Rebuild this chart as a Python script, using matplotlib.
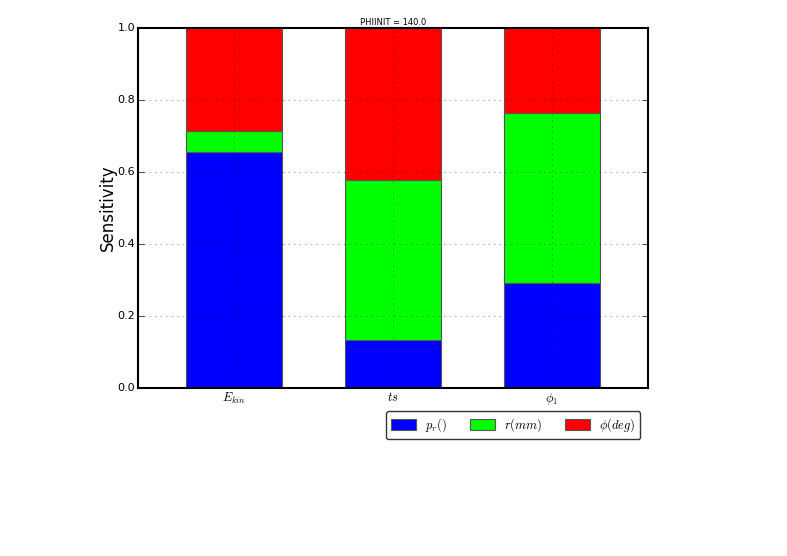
import matplotlib
matplotlib.use("Agg")
import matplotlib.pyplot as plt
import numpy as np

plt.style.use("classic")
plt.rcParams["mathtext.fontset"] = "cm"

# --- dados ---
categorias = [r"$E_{kin}$", r"$ts$", r"$\phi_1$"]
p_r = [0.656, 0.133, 0.292]
r_mm = [0.058, 0.445, 0.472]
phi_deg = [0.286, 0.422, 0.236]
rotulos = [r"$p_r()$", r"$r(mm)$", r"$\phi(deg)$"]
cores = ["#0000ff", "#00ff00", "#ff0000"]

fig = plt.figure(figsize=(7.87, 5.56), dpi=100)
ax = fig.add_axes([0.1753, 0.3022, 0.6481, 0.6474])

x = np.arange(len(categorias))
base = np.zeros(len(categorias))
for vals, lab, c in zip([p_r, r_mm, phi_deg], rotulos, cores):
    ax.bar(x, vals, width=0.6, bottom=base, color=c, edgecolor="#555555",
           linewidth=0.8, label=lab, align="center")
    base = base + np.array(vals)

ax.set_xlim(-0.604, 2.604)
ax.set_ylim(0, 1)
ax.set_xticks(x)
ax.set_xticklabels(categorias, fontsize=9)
ax.set_yticks(np.arange(0, 1.01, 0.2))
ax.tick_params(axis="y", labelsize=8, pad=2)
ax.tick_params(axis="x", length=0, pad=2)
ax.set_ylabel("Sensitivity", fontsize=12, labelpad=0.5)
ax.set_title("PHIINIT = 140.0", fontsize=6, pad=2)
ax.grid(True, color="black", linestyle=":", linewidth=0.5, alpha=0.5)
ax.set_axisbelow(False)
for s in ax.spines.values():
    s.set_linewidth(1.5)

leg = ax.legend(loc="upper right", bbox_to_anchor=(0.985, -0.065), ncol=3,
                fontsize=9, fancybox=True, shadow=False, borderaxespad=0.0,
                handlelength=2.0, handleheight=0.9, columnspacing=1.8,
                handletextpad=0.75, framealpha=1.0)
leg.get_frame().set_edgecolor("#333333")

fig.savefig("out.png", dpi=100)
